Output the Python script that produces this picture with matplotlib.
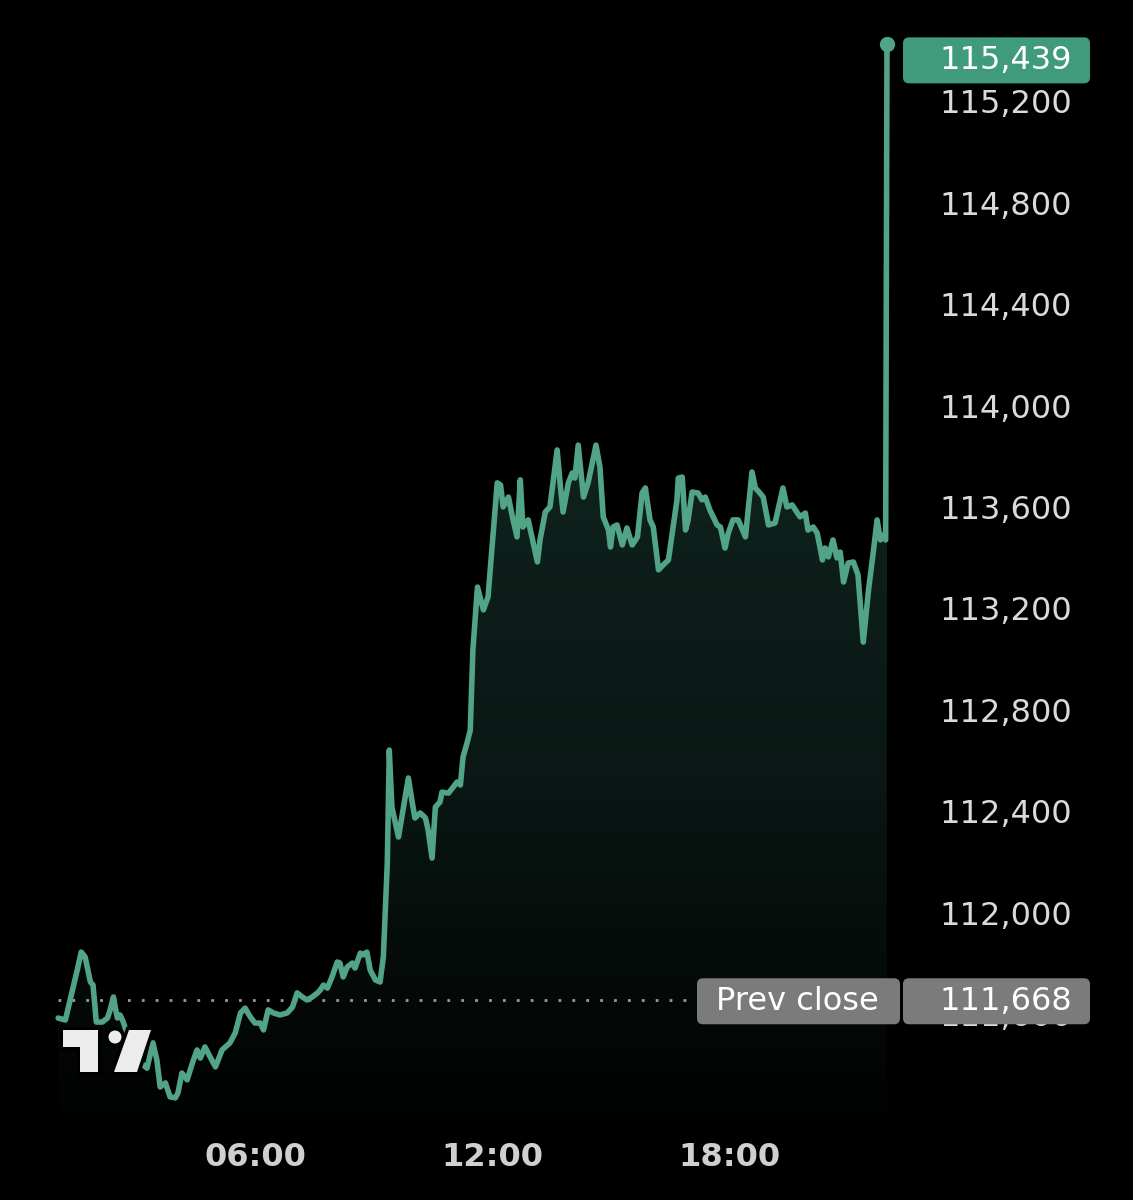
import numpy as np
import matplotlib
matplotlib.use('Agg')
import matplotlib.pyplot as plt
from matplotlib.patches import FancyBboxPatch, Polygon, Circle
from matplotlib.colors import LinearSegmentedColormap
from matplotlib.transforms import IdentityTransform

# minutes since midnight / price
minutes = [61, 72, 90, 96, 102, 110, 114, 119, 128, 136, 140, 145, 148, 151, 155, 160,
           178, 196, 205, 211, 216, 224, 231, 239, 243, 249, 257, 265, 272, 277, 284,
           292, 300, 310, 322, 330, 338, 345, 353, 360, 368, 373, 380, 388, 398, 409,
           417, 424, 432, 439, 447, 455, 459, 464, 470, 477, 485, 489, 494, 500, 508,
           512, 520, 524, 530, 535, 543, 550, 555, 561, 564, 568, 578, 593, 599, 603,
           611, 619, 623, 629, 634, 641, 644, 654, 661, 667, 672, 676, 682, 687, 691,
           698, 707, 714, 728, 733, 737, 745, 751, 758, 763, 767, 775, 789, 793, 801,
           808, 819, 824, 828, 836, 842, 846, 851, 859, 866, 878, 884, 889, 897, 900,
           904, 910, 918, 925, 933, 941, 948, 953, 960, 965, 973, 980, 988, 1001, 1003,
           1009, 1014, 1018, 1024, 1033, 1039, 1044, 1051, 1062, 1067, 1074, 1079, 1086,
           1094, 1105, 1115, 1120, 1127, 1132, 1140, 1150, 1162, 1168, 1176, 1184, 1188,
           1196, 1200, 1208, 1214, 1222, 1226, 1231, 1238, 1244, 1249, 1254, 1261, 1269,
           1276, 1284, 1292, 1299, 1305, 1310, 1314, 1318, 1320]
prices = [111598, 111590, 111787, 111858, 111839, 111740, 111728, 111582, 111582, 111598,
          111630, 111681, 111637, 111598, 111610, 111582, 111440, 111400, 111500, 111432,
          111326, 111342, 111287, 111283, 111302, 111381, 111354, 111421, 111472, 111440,
          111484, 111444, 111405, 111472, 111500, 111539, 111618, 111637, 111602, 111578,
          111578, 111551, 111630, 111618, 111610, 111618, 111641, 111697, 111681, 111669,
          111681, 111697, 111708, 111728, 111716, 111760, 111819, 111815, 111760, 111799,
          111815, 111795, 111854, 111847, 111858, 111787, 111748, 111740, 111839, 112210,
          112655, 112430, 112312, 112545, 112446, 112387, 112407, 112387, 112340, 112229,
          112430, 112450, 112489, 112485, 112509, 112529, 112517, 112627, 112682, 112733,
          113050, 113298, 113208, 113259, 113709, 113701, 113614, 113653, 113575, 113496,
          113721, 113535, 113563, 113397, 113484, 113594, 113614, 113839, 113693, 113594,
          113709, 113748, 113728, 113858, 113653, 113709, 113858, 113772, 113575, 113523,
          113456, 113535, 113543, 113464, 113531, 113464, 113496, 113669, 113689, 113563,
          113535, 113366, 113385, 113405, 113642, 113728, 113732, 113523, 113563, 113673,
          113669, 113642, 113653, 113602, 113543, 113535, 113452, 113511, 113563, 113563,
          113496, 113752, 113689, 113669, 113653, 113543, 113551, 113689, 113614, 113622,
          113590, 113575, 113590, 113523, 113535, 113511, 113405, 113452, 113417, 113484,
          113413, 113436, 113318, 113393, 113397, 113346, 113081, 113287, 113432, 113563,
          113484, 113503, 113484, 115439]

prev_close = 111668
last_price = 115439
y_ticks = [111600, 112000, 112400, 112800, 113200, 113600, 114000, 114400, 114800, 115200]
x_ticks = [360, 720, 1080]
x_labels = ['06:00', '12:00', '18:00']

W, H = 1133, 1200
y_lo, y_hi = 110880, 115614

line_col = '#52a486'
txt_col = '#dadada'
plt.rcParams['font.family'] = 'DejaVu Sans'

fig = plt.figure(figsize=(W / 100, H / 100), dpi=100, facecolor='black')
ax = fig.add_axes([0, 0, 1, 1])
ax.set_facecolor('black')
ax.set_xlim(-27.3, 1693.7)
ax.set_ylim(y_lo, y_hi)
ax.axis('off')

# degrade sous la courbe
cmap = LinearSegmentedColormap.from_list('g', ['#000000', '#0a1714', '#10241f'])
grad = np.linspace(0, 1, 256).reshape(-1, 1)
im = ax.imshow(grad, extent=[minutes[0], minutes[-1], y_lo + 200, 114000],
               origin='lower', cmap=cmap, aspect='auto', zorder=1)
verts = list(zip(minutes, prices)) + [(minutes[-1], y_lo), (minutes[0], y_lo)]
clip = Polygon(verts, closed=True, facecolor='none', edgecolor='none',
               transform=ax.transData)
ax.add_patch(clip)
im.set_clip_path(clip)

# ligne prev close en pointille
ax.plot([minutes[0], 1030], [prev_close, prev_close], color='#9a9a9a',
        ls=(0, (1, 4)), lw=2, zorder=2)

ax.plot(minutes, prices, color=line_col, lw=4.0, solid_joinstyle='round',
        solid_capstyle='round', zorder=3)
ax.plot(minutes[-1], last_price, 'o', color=line_col, ms=10, zorder=4)

# labels axe y
for v in y_ticks:
    ax.text(1072 / W, v, f'{v:,}', transform=ax.get_yaxis_transform(),
            ha='right', va='center', fontsize=23, color=txt_col, zorder=5)

# labels axe x
for m, lab in zip(x_ticks, x_labels):
    ax.text(m, 1 - 1157 / H, lab, transform=ax.get_xaxis_transform(),
            ha='center', va='center', fontsize=23, fontweight='bold', color='#cfcfcf')

idt = IdentityTransform()


def box(x0, x1, yc, h, col):
    p = FancyBboxPatch((x0, yc - h / 2), x1 - x0, h,
                       boxstyle='round,pad=0,rounding_size=6',
                       facecolor=col, edgecolor='none', transform=idt, zorder=6)
    fig.patches.append(p)


# boite dernier prix
y_last = ax.transData.transform((0, last_price))[1] - 16
box(903, 1090, y_last, 46, '#3f9b7b')
fig.text(1072 / W, y_last / H, f'{last_price:,}', ha='right', va='center',
         fontsize=23, color='white', zorder=7)

# boites prev close
y_pc = ax.transData.transform((0, prev_close))[1] - 1
box(697, 900, y_pc, 46, '#7b7b7b')
box(903, 1090, y_pc, 46, '#7b7b7b')
fig.text(797 / W, y_pc / H, 'Prev close', ha='center', va='center',
         fontsize=23, color='white', zorder=7)
fig.text(1072 / W, y_pc / H, f'{prev_close:,}', ha='right', va='center',
         fontsize=23, color='white', zorder=7)

# logo : halo noir dessous, puis la forme blanche
logo_col = '#ececec'
t_shape = [(63, 1030), (98, 1030), (98, 1072), (80, 1072), (80, 1047), (63, 1047)]
slash = [(129, 1030), (151, 1030), (137, 1072), (114, 1072)]
for face, edge, lw, z in (('black', 'black', 5, 5.5), (logo_col, 'none', 0, 6)):
    for pts in (t_shape, slash):
        fig.patches.append(Polygon([(x, H - y) for x, y in pts], closed=True,
                                   facecolor=face, edgecolor=edge, lw=lw,
                                   transform=idt, zorder=z))
    fig.patches.append(Circle((115, H - 1037), 6.5, facecolor=face, edgecolor=edge,
                              lw=lw, transform=idt, zorder=z))

plt.savefig('out.png', dpi=100, facecolor='black')
plt.close()
